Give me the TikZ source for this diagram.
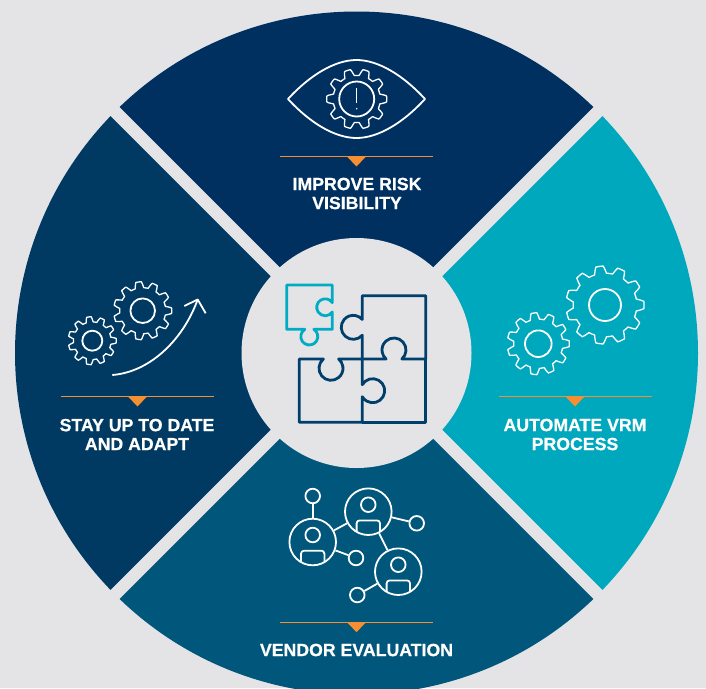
\documentclass[tikz,border=0pt]{standalone}
\usepackage{fontspec}
\setmainfont[BoldFeatures={FakeBold=0.6}]{Liberation Sans}
\usetikzlibrary{calc,positioning}
\definecolor{mybg}{RGB}{228,228,231}
\definecolor{mytop}{RGB}{0,48,96}
\definecolor{myleft}{RGB}{0,58,99}
\definecolor{mybottom}{RGB}{0,86,123}
\definecolor{myright}{RGB}{0,168,189}
\definecolor{myorange}{RGB}{245,143,50}
\definecolor{mypuzzle}{RGB}{0,63,107}
\definecolor{myteal}{RGB}{0,172,196}
\tikzset{
    iconline/.style={draw=white, line width=1.8pt, line join=round},
    gearline/.style={draw=white, line width=1.3pt, line join=round},
    puzzleline/.style={line width=2.8pt, line join=round},
    heading/.style={text=white, font=\fontsize{17.7}{19}\selectfont\bfseries, align=center, inner sep=0pt},
    ruler/.style={draw=myorange, line width=1.2pt},
    marker/.style={fill=myorange},
    person/.style={circle, iconline, inner sep=0pt, minimum size=46.6pt},
    dot/.style={circle, iconline, inner sep=0pt, minimum size=14.6pt},
    ring/.style={circle, iconline, inner sep=0pt}
}
% centre x, centre y, outer radius, teeth, tooth height
\newcommand{\gearshape}[5]{
    \draw[gearline] plot[domain=0:360, samples=265]
        ({#1+(#3-#5+#5*max(-1,min(1,2*cos(#4*\x))))*cos(\x)},
         {#2+(#3-#5+#5*max(-1,min(1,2*cos(#4*\x))))*sin(\x)}) -- cycle;
}
% centre x, rule y
\newcommand{\rulemark}[2]{
    \draw[ruler] (#1-76.5,#2) -- (#1+76.5,#2);
    \fill[marker] (#1-9.5,#2) -- (#1+9.5,#2) -- (#1,#2+10) -- cycle;
}
% person inside a ring
\newcommand{\personin}[1]{
    \node[ring, minimum size=14.6pt] at ($(#1)+(0,-7)$) {};
    \draw[iconline] ($(#1)+(-11.7,19.7)$) -- ($(#1)+(-11.7,11.7)$)
        arc[start angle=180, end angle=270, radius=3]
        -- ($(#1)+(8.7,8.7)$) arc[start angle=270, end angle=360, radius=3]
        -- ($(#1)+(11.7,19.7)$);
}
\begin{document}
\begin{tikzpicture}[x=1pt, y=-1pt]
    \def\R{341.5}
    \useasboundingbox (0,0) rectangle (706,688);
    \clip (0,0) rectangle (706,688);
    \fill[mybg] (0,0) rectangle (706,688);
    \coordinate (hub) at (356.5,353);
    % the four sectors
    \fill[mytop] (hub) -- ++(-135:\R) arc[start angle=-135, end angle=-45, radius=\R] -- cycle;
    \fill[myright] (hub) -- ++(-45:\R) arc[start angle=-45, end angle=45, radius=\R] -- cycle;
    \fill[mybottom] (hub) -- ++(45:\R) arc[start angle=45, end angle=135, radius=\R] -- cycle;
    \fill[myleft] (hub) -- ++(135:\R) arc[start angle=135, end angle=225, radius=\R] -- cycle;
    \draw[mybg, line width=12.6pt] ($(hub)+(-250,-250)$) -- ($(hub)+(250,250)$);
    \draw[mybg, line width=12.6pt] ($(hub)+(250,-250)$) -- ($(hub)+(-250,250)$);
    \fill[mybg] (hub) circle[radius=115];

    % eye
    \draw[iconline] (288,99) .. controls (310,75) and (335,60) .. (356.5,60)
        .. controls (378,60) and (403,75) .. (425,99)
        .. controls (403,123) and (378,138) .. (356.5,138)
        .. controls (335,138) and (310,123) .. (288,99) -- cycle;
    \gearshape{356.7}{99}{30}{10}{3.2}
    \node[ring, minimum size=35pt] (eyering) at (356.7,99) {};
    \draw[white, line width=0.8pt] (356.7,88) -- (356.7,103);
    \fill[white] (356.7,108.7) circle[radius=0.8];
    \rulemark{356.5}{156.5}
    \node[heading] (risk) at (357,193.5) {IMPROVE RISK\\VISIBILITY};

    % gears and arrow
    \gearshape{142.7}{310.7}{29}{11}{3}
    \node[ring, minimum size=24.6pt] (bigring) at (142.7,310.7) {};
    \gearshape{92.3}{340.7}{24}{11}{2.6}
    \node[ring, minimum size=20pt] (smallring) at (92.3,340.7) {};
    \coordinate (arrowstart) at (112.3,375);
    \coordinate (arrowtip) at (197.7,299.5);
    \draw[iconline] (arrowstart) .. controls (150,372) and (183,340) .. (arrowtip);
    \draw[iconline] (184.3,306) -- (arrowtip) -- (205.7,313.3);
    \rulemark{137.5}{396.5}
    \node[heading] (adapt) at (137,434.5) {STAY UP TO DATE\\AND ADAPT};

    % gears
    \gearshape{605}{305}{39}{11}{3.6}
    \node[ring, minimum size=32pt] (autobig) at (605,305) {};
    \gearshape{538.3}{343.7}{31}{11}{3.2}
    \node[ring, minimum size=26.6pt] (autosmall) at (538.3,343.7) {};
    \rulemark{575}{396.5}
    \node[heading] (vrm) at (575,434.5) {AUTOMATE VRM\\PROCESS};

    % people network
    \node[person] (vendora) at (312.7,542) {};
    \node[person] (vendorb) at (368.3,511.7) {};
    \node[person] (vendorc) at (398.3,571.7) {};
    \node[dot] (dota) at (312.7,496) {};
    \node[dot] (dotb) at (416.7,523.3) {};
    \node[dot] (dotc) at (356,558) {};
    \node[dot] (dotd) at (357.3,595) {};
    \personin{vendora}
    \personin{vendorb}
    \personin{vendorc}
    \draw[iconline] (vendora) -- (dota);
    \draw[iconline] (vendora) -- (vendorb);
    \draw[iconline] (vendorb) -- (dotb);
    \draw[iconline] (vendorb) -- (vendorc);
    \draw[iconline] (vendora) -- (dotc);
    \draw[iconline] (vendorc) -- (dotd);
    \rulemark{356.5}{622.2}
    \node[heading] (eval) at (356.5,650) {VENDOR EVALUATION};

    % puzzle
    \draw[puzzleline, myteal] (286.7,285) -- (332.3,285) -- (332.3,302.6)
        arc[start angle=-33.5, end angle=-326.5, radius=8.5]
        -- (332.3,329.3) -- (313.8,329.3)
        arc[start angle=-58, end angle=238, radius=8.5]
        -- (286.7,329.3) -- cycle;
    \draw[puzzleline, mypuzzle] (362.3,295.7) -- (425.7,295.7) -- (425.7,359) -- (401.9,359)
        arc[start angle=48.7, end angle=-228.7, radius=12]
        -- (362.3,359) -- (362.3,335.2)
        arc[start angle=41, end angle=319, radius=12]
        -- cycle;
    \draw[puzzleline, mypuzzle] (299.3,359) -- (323.4,359)
        arc[start angle=230.7, end angle=-50.7, radius=12]
        -- (362.3,359) -- (362.3,384.7)
        arc[start angle=-150, end angle=150, radius=12]
        -- (362.3,422.3) -- (299.3,422.3) -- cycle;
    \draw[puzzleline, mypuzzle] (425.7,359) -- (425.7,422.3) -- (362.3,422.3);
\end{tikzpicture}
\end{document}
